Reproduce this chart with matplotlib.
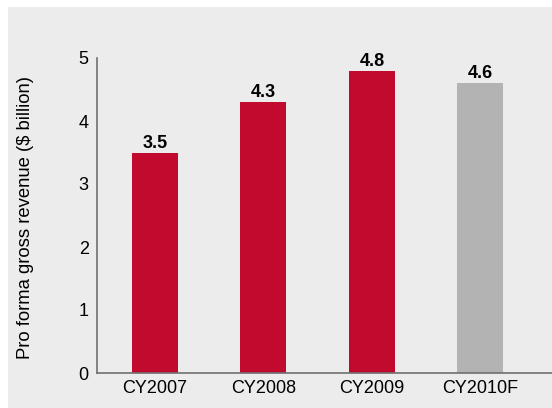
import matplotlib
matplotlib.use("Agg")
import matplotlib.pyplot as plt
from matplotlib.patches import Rectangle

categories = ["CY2007", "CY2008", "CY2009", "CY2010F"]
values = [3.5, 4.3, 4.8, 4.6]
labels = ["3.5", "4.3", "4.8", "4.6"]
colors = ["#c20a2e", "#c20a2e", "#c20a2e", "#b3b3b3"]
yticks = [0, 1, 2, 3, 4, 5]

plt.rcParams['font.family'] = ['Liberation Sans', 'DejaVu Sans']

fig = plt.figure(figsize=(5.52, 4.08), dpi=100)
fig.patch.set_facecolor("white")
bg = "#ebeceb"
fig.patches.append(Rectangle((8/552, 0), 1, 1 - 7/408, transform=fig.transFigure,
                             facecolor=bg, edgecolor="none", zorder=-10))

ax = fig.add_axes([97/552, 35/408, 1 - 97/552, (373 - 58)/408])
ax.set_facecolor(bg)
x = list(range(len(categories)))
ax.bar(x, values, width=0.424, color=colors, zorder=2)
for xi, v, lab in zip(x, values, labels):
    ax.text(xi, v + 0.015, lab, ha="center", va="bottom", fontsize=13, fontweight="bold", color="black")

ax.set_xlim(-0.535, 3.66)
ax.set_ylim(0, 5)
ax.set_xticks(x)
ax.set_xticklabels(categories, fontsize=13)
ax.set_yticks(yticks)
ax.set_yticklabels([str(t) for t in yticks], fontsize=13)
ax.tick_params(axis="both", length=0)
ax.tick_params(axis="y", pad=6)
ax.tick_params(axis="x", pad=5)
for s in ["top", "right"]:
    ax.spines[s].set_visible(False)
for s in ["left", "bottom"]:
    ax.spines[s].set_color("#707070")
    ax.spines[s].set_linewidth(1.2)
ax.set_ylabel("Pro forma gross revenue ($ billion)", fontsize=13.3)
ax.yaxis.set_label_coords(-0.138, 0.495)

fig.savefig("out.png", dpi=100, facecolor=fig.get_facecolor())
